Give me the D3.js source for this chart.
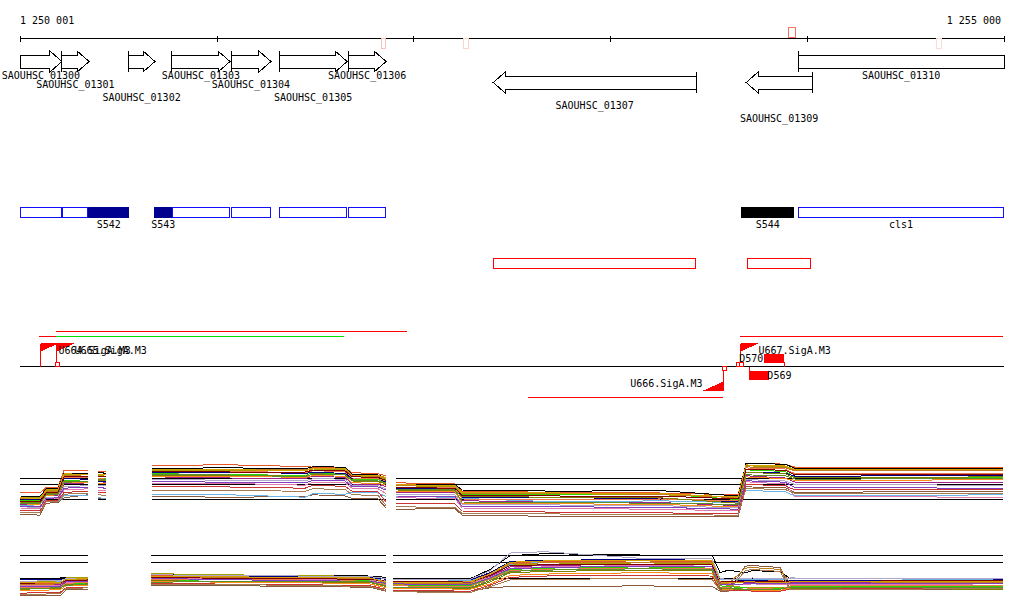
<!DOCTYPE html>
<html><head><meta charset="utf-8">
<script src="https://cdn.jsdelivr.net/npm/d3@7"></script>
<style>
body{margin:0;background:#fff}
svg{display:block}
text{font-family:"DejaVu Sans Mono",monospace;font-size:10px;fill:#000}
</style>
</head><body>
<svg id="c" width="1024" height="611"></svg>
<script>
// ---------- DATA ----------
const viewStart = 1250001, viewEnd = 1255000;
const axisTicks = [1250001, 1251000, 1252000, 1253000, 1254000, 1255000];
const axisLabels = ["1 250 001", "1 255 000"];

const markStart = [1251836, 1252250, 1253902, 1254656];
const markEnd   = [1251856, 1252276, 1253937, 1254680];
const markStrand = [-1, -1, 1, -1];
const markScore = [0.35, 0.25, 0.8, 0.2];

const geneNames = ["SAOUHSC_01300","SAOUHSC_01301","SAOUHSC_01302","SAOUHSC_01303","SAOUHSC_01304","SAOUHSC_01305","SAOUHSC_01306","SAOUHSC_01307","SAOUHSC_01309","SAOUHSC_01310"];
const geneStart = [1249700, 1250213, 1250550, 1250773, 1251073, 1251317, 1251668, 1252405, 1253690, 1253954];
const geneEnd   = [1250214, 1250352, 1250687, 1251068, 1251276, 1251663, 1251861, 1253436, 1254025, 1255300];
const geneStrand = [1, 1, 1, 1, 1, 1, 1, -1, -1, 1];

const featStart = [1249700, 1250213, 1250348, 1250682, 1250775, 1251073, 1251317, 1251668, 1253665, 1253954];
const featEnd   = [1250214, 1250347, 1250555, 1250775, 1251068, 1251276, 1251663, 1251861, 1253934, 1255300];
const featType  = ["cds","cds","srna","srna","cds","cds","cds","cds","other","cds"];
const featLabel = ["","","S542","S543","","","","","S544","cls1"];

const predStart = [1252405, 1253695];
const predEnd   = [1253436, 1254020];

const tuStart  = [1250098, 1250184, 1250184, 1253660, 1252582];
const tuEnd    = [1250184, 1251646, 1251966, 1254996, 1253572];
const tuStrand = [1, 1, 1, 1, -1];
const tuKind   = ["u", "g", "u", "u", "u"];

const promName = ["U664.SigA.M3", "U665.SigA.M3", "U667.SigA.M3", "U666.SigA.M3"];
const promPos  = [1250101, 1250184, 1253660, 1253572];
const promStrand = [1, 1, 1, -1];

const tssPos = [1250184, 1253644, 1253661, 1253572];
const tssStrand = [1, 1, 1, -1];

const termName = ["D570", "D569"];
const termStart = [1253782, 1253707];
const termEnd   = [1253883, 1253808];
const termStrand = [1, -1];

const refLevels = [12, 11, 8.5];

const seriesColors = ["#e8572a","#000000","#a8a000","#33d000","#a0228c","#8b5a3c","#6cb4e8","#e07ab0","#000080","#c47a1e","#f07850","#808000","#b0a8c8","#800000","#ff8c1a","#7f3fbf","#d4a000","#5a8f29","#cc3333","#a67c52"];

const expr1Pos = [1250001,1250103,1250133,1250194,1250225,1250347,1250397,1250438,1250672,1251068,1251449,1251490,1251652,1251688,1251820,1251861,1251912,1252211,1252247,1252745,1253253,1253649,1253690,1253720,1253888,1253939,1254996];
const expr1Segments = [[1250001,1250347],[1250397,1250438],[1250672,1251861],[1251912,1254996]];
const expr1Values = [
[9.6,9.5,10.4,10.5,13.3,13.2,13.1,13.0,14.1,14.2,13.9,13.8,13.7,12.9,12.7,12.4,11.2,11.0,9.8,9.6,9.5,9.2,14.4,14.5,14.3,13.8,13.7],
[9.0,8.9,10.2,10.3,12.8,12.8,12.9,12.8,13.6,13.7,13.5,13.9,13.8,12.6,12.5,12.0,11.0,10.9,10.0,9.8,9.9,9.0,14.5,14.4,14.3,13.6,13.5],
[8.8,8.7,9.9,10.0,12.6,12.5,12.4,12.3,13.3,13.2,13.3,13.5,13.4,12.3,12.2,11.8,10.7,10.6,9.4,9.3,9.2,8.9,14.1,14.0,13.9,13.3,13.4],
[8.3,8.2,9.6,9.7,11.6,11.7,12.0,11.9,12.7,12.6,12.4,12.9,12.7,11.8,11.7,11.4,10.2,10.1,9.2,9.3,9.4,8.4,13.4,13.3,13.1,12.1,12.0],
[7.6,7.6,9.0,9.1,11.0,11.2,11.4,11.3,12.2,12.0,11.9,12.3,12.1,11.0,10.9,10.6,9.6,9.5,8.2,8.0,7.9,7.4,12.4,12.3,12.0,11.3,11.2],
[6.0,5.8,7.8,7.9,8.7,9.2,8.6,8.5,8.9,8.8,8.9,9.2,9.0,8.6,8.5,7.0,6.8,6.9,5.8,5.6,5.6,5.5,10.6,10.5,10.4,9.6,9.8],
[7.4,7.3,8.0,8.1,9.0,9.1,8.7,8.6,9.3,9.2,8.8,9.4,9.3,9.6,9.5,8.9,8.9,8.8,8.6,8.0,8.2,7.9,10.0,9.9,9.7,9.0,9.2],
[7.0,6.9,8.5,8.6,10.0,10.2,10.0,9.9,11.0,11.1,10.8,11.3,11.2,10.3,10.2,9.4,8.7,8.6,7.0,6.9,6.8,6.5,11.4,11.3,11.0,8.9,8.8],
[8.5,8.4,9.3,9.4,11.9,11.8,11.5,11.4,12.9,12.9,12.8,12.9,12.8,11.9,11.9,11.3,10.3,10.2,8.8,8.7,8.6,8.0,13.0,13.0,12.8,12.3,12.4],
[8.6,8.5,9.8,9.8,12.4,12.3,12.2,12.2,13.4,13.5,13.4,13.6,13.5,12.4,12.3,12.0,10.8,10.8,9.5,9.4,9.3,8.7,13.9,13.8,13.7,13.2,13.2],
[7.9,7.8,9.2,9.3,12.1,12.0,11.9,11.8,13.0,13.1,12.9,13.2,13.1,12.0,11.9,11.5,10.5,10.4,8.5,8.4,8.5,8.2,13.7,13.6,13.5,12.7,12.8],
[8.0,7.9,9.4,9.5,11.4,11.5,11.6,11.6,12.5,12.4,12.3,12.6,12.5,11.5,11.4,11.0,10.0,9.9,8.9,8.8,8.7,7.8,12.9,12.9,12.7,12.0,12.2],
[7.2,7.1,8.8,8.8,10.6,10.7,10.8,10.7,11.8,11.6,11.5,11.9,11.8,10.8,10.7,10.2,9.3,9.2,7.6,7.5,7.4,7.0,11.8,11.7,11.5,10.9,10.8],
[8.1,8.0,9.5,9.6,12.2,12.2,12.3,12.2,13.1,13.0,13.0,13.3,13.2,12.2,12.1,11.6,10.4,10.3,9.1,9.0,9.0,8.5,13.5,13.4,13.3,12.5,12.6],
[7.7,7.6,9.1,9.2,11.2,11.3,11.1,11.0,12.3,12.3,12.1,12.4,12.3,11.2,11.1,10.8,9.8,9.7,7.8,7.7,7.6,7.2,12.2,12.1,11.9,11.6,11.7],
[7.3,7.2,8.6,8.7,10.3,10.5,10.4,10.3,11.4,11.3,11.2,11.6,11.5,10.6,10.5,10.0,9.0,8.9,7.3,7.2,7.1,6.8,11.6,11.5,11.3,10.4,10.3],
[8.7,8.6,10.0,10.1,12.7,12.6,12.6,12.5,13.5,13.4,13.2,13.6,13.6,12.5,12.4,12.1,10.9,10.7,9.6,9.5,9.4,8.8,14.2,14.1,14.0,13.4,13.5],
[7.8,7.7,9.2,9.3,11.3,11.4,11.7,11.7,12.6,12.5,12.2,12.7,12.6,11.6,11.5,11.2,10.1,10.0,8.0,7.9,7.8,7.6,12.6,12.5,12.4,11.8,11.9],
[6.6,6.5,8.2,8.3,9.6,9.8,9.6,9.5,10.6,10.5,10.3,10.8,10.6,9.8,9.7,8.0,7.8,7.7,6.5,6.3,6.2,6.0,11.0,10.9,10.7,10.0,10.1],
[6.3,6.2,8.0,8.1,9.3,9.5,9.2,9.1,10.0,9.9,9.8,10.2,10.1,9.2,9.1,7.4,7.2,7.1,6.1,6.0,5.9,5.8,10.3,10.2,10.1,9.4,9.5]
];

const expr2Pos = [1250001,1250204,1250235,1250347,1250667,1250916,1251424,1251779,1251861,1251896,1252288,1252389,1252491,1252669,1253151,1253517,1253558,1253599,1253685,1253720,1253863,1253914,1254996];
const expr2Segments = [[1250001,1250347],[1250667,1251861],[1251896,1254996]];
const expr2Values = [
[7.6,7.7,8.3,8.4,8.9,8.8,8.7,8.6,8.0,7.9,8.0,9.2,10.8,11.0,11.1,11.0,7.9,7.8,8.0,8.1,8.1,7.9,8.0],
[8.5,8.5,8.6,8.6,9.1,9.0,8.9,8.8,8.6,8.5,8.4,9.8,11.9,12.2,12.0,12.0,9.3,9.7,9.3,9.6,9.5,8.4,8.5],
[7.9,8.0,8.5,8.6,9.2,9.0,8.9,8.7,7.7,7.5,7.6,8.8,10.5,10.6,10.8,10.7,7.5,7.4,7.0,7.1,7.0,6.9,7.0],
[7.1,7.2,7.6,7.7,8.0,8.2,8.3,8.1,7.6,7.4,7.3,8.4,9.8,10.0,10.2,10.0,7.3,7.2,7.0,6.9,6.9,7.2,7.2],
[7.4,7.5,8.0,8.1,8.6,8.5,8.5,8.4,8.1,8.0,7.8,8.7,10.2,10.4,10.6,10.5,7.8,7.7,7.8,7.8,7.7,7.8,7.7],
[5.8,5.8,6.7,6.8,7.4,7.4,7.2,7.1,6.5,6.4,6.5,7.0,7.2,7.2,7.3,7.2,6.5,6.4,10.3,10.4,10.1,6.7,6.8],
[7.8,7.9,8.2,8.3,8.5,8.6,8.7,8.5,8.0,7.9,8.1,9.0,10.6,10.9,10.9,10.8,8.3,8.2,8.2,8.3,8.2,8.4,8.3],
[7.3,7.3,7.8,7.9,8.4,8.4,8.3,8.2,7.9,7.8,7.7,8.6,10.0,10.2,10.4,10.3,7.6,7.6,7.5,7.6,7.5,7.5,7.6],
[8.2,8.2,8.4,8.5,8.8,8.7,8.8,8.6,8.3,8.2,8.2,9.3,11.0,11.2,11.3,11.2,8.0,8.0,8.1,8.1,8.0,8.1,8.2],
[7.5,7.6,8.2,8.2,8.7,8.6,8.6,8.4,7.8,7.6,7.7,8.9,10.7,10.8,10.9,10.8,7.7,7.6,10.0,10.1,9.8,7.7,7.8],
[7.0,7.1,7.7,7.8,8.3,8.3,8.2,8.0,7.5,7.3,7.2,8.3,9.6,9.8,10.0,9.9,7.1,7.0,6.8,6.9,6.8,7.3,7.4],
[6.8,6.9,7.5,7.6,8.1,8.0,7.9,7.8,7.2,7.0,6.9,7.9,9.3,9.5,9.7,9.6,6.9,6.8,6.7,6.7,6.6,6.9,6.8],
[8.0,8.1,8.4,8.5,9.0,8.9,8.8,8.7,8.4,8.3,8.3,9.6,12.3,12.5,11.5,11.4,8.4,8.3,8.4,8.5,8.4,8.5,8.4],
[7.7,7.8,8.1,8.2,8.6,8.5,8.4,8.3,8.0,7.9,7.9,8.9,10.4,10.5,10.6,10.5,7.9,7.9,7.9,8.0,7.9,8.0,8.1],
[6.6,6.7,7.3,7.4,7.9,7.9,7.8,7.6,7.0,6.9,6.8,7.6,8.9,9.1,9.3,9.2,6.8,6.7,6.6,6.6,6.6,7.0,7.1],
[7.2,7.2,7.9,8.0,8.5,8.3,8.1,8.0,7.7,7.6,7.5,8.5,9.9,10.1,10.3,10.2,7.5,7.5,7.6,7.7,7.6,7.7,7.6],
[7.8,7.8,8.3,8.4,8.8,8.7,8.6,8.5,7.9,7.8,7.9,9.1,10.9,11.1,11.2,11.1,7.9,7.8,7.9,7.9,7.8,7.9,7.9],
[6.9,7.0,7.4,7.5,7.8,8.0,8.0,7.9,7.3,7.1,7.0,8.1,9.5,9.7,9.9,9.8,7.0,6.9,6.8,6.8,6.8,7.1,7.0],
[6.2,6.3,7.0,7.1,7.6,7.6,7.5,7.3,6.8,6.6,6.5,7.4,8.6,8.8,8.9,8.8,6.7,6.6,6.6,6.5,6.5,6.8,6.9],
[6.0,6.1,6.9,7.0,7.5,7.5,7.4,7.2,6.6,6.4,6.3,7.2,8.2,8.3,8.4,8.3,6.6,6.5,9.6,9.8,9.5,6.7,6.9]
];

// ---------- DRAWING ----------
const svg = d3.select("#c");
const X0 = 20, X1 = 1004;
const x = d3.scaleLinear().domain([viewStart, viewEnd]).range([X0, X1]);
const cx = v => Math.max(X0, Math.min(X1, x(v)));
const g = svg.append("g").attr("shape-rendering", "crispEdges");

// axis
const axisY = 38.5;
g.append("line").attr("x1", X0).attr("x2", X1).attr("y1", axisY).attr("y2", axisY).attr("stroke", "#000");
g.selectAll(".tick").data(axisTicks).join("line")
  .attr("x1", d => Math.round(x(d)) + 0.5).attr("x2", d => Math.round(x(d)) + 0.5)
  .attr("y1", axisY - 3).attr("y2", axisY + 3).attr("stroke", "#000");
svg.append("text").attr("x", x(viewStart)).attr("y", 24).text(axisLabels[0]);
svg.append("text").attr("x", x(viewEnd) - 3).attr("y", 24).attr("text-anchor", "end").text(axisLabels[1]);

// axis marks
const markColor = d3.interpolateRgb("#ffffff", "#ee5533");
markStart.forEach((s, i) => {
  const a = Math.round(x(s)) + 0.5, b = Math.round(x(markEnd[i])) + 0.5;
  const y0 = markStrand[i] > 0 ? 27.5 : 38.5;
  g.append("rect").attr("x", a).attr("y", y0).attr("width", b - a).attr("height", 10)
    .attr("fill", "#fff").attr("stroke", markColor(markScore[i]));
});

// genes
const head = 12;
const labelBase = [79, 88, 101];
geneNames.forEach((name, i) => {
  const x1 = x(geneStart[i]), x2 = x(geneEnd[i]);
  const L = Math.max(X0, x1), R = Math.min(X1, x2);
  const dy = geneStrand[i] > 0 ? 0 : 21;
  const top = 51 + dy, bot = 72 + dy, bt = 55 + dy, bb = 68 + dy, mid = 61.5 + dy;
  let p;
  if (geneStrand[i] > 0) {
    if (x2 <= X1) p = `M${L},${bt}H${x2 - head}V${top}L${x2},${mid}L${x2 - head},${bot}V${bb}H${L}Z`;
    else p = `M${L},${bt}H${R}V${bb}H${L}Z`;
    if (x1 >= X0) g.append("line").attr("x1", x1).attr("x2", x1).attr("y1", top).attr("y2", bot).attr("stroke", "#000");
  } else {
    if (x1 >= X0) p = `M${R},${bt}H${x1 + head}V${top}L${x1},${mid}L${x1 + head},${bot}V${bb}H${R}Z`;
    else p = `M${L},${bt}H${R}V${bb}H${L}Z`;
    if (x2 <= X1) g.append("line").attr("x1", x2).attr("x2", x2).attr("y1", top).attr("y2", bot).attr("stroke", "#000");
  }
  g.append("path").attr("d", p).attr("fill", "#fff").attr("stroke", "#000");
  svg.append("text").attr("x", (L + R) / 2).attr("y", labelBase[i % 3] + dy + (i % 3 === 0 && dy ? 1 : 0))
    .attr("text-anchor", "middle").text(name);
});

// feature boxes
const featFill = {cds: "#fff", srna: "#000090", other: "#000"};
const featStroke = {cds: "#1010ff", srna: "#000090", other: "#000"};
featStart.forEach((s, i) => {
  const a = cx(s), b = cx(featEnd[i]);
  g.append("rect").attr("x", a + 0.5).attr("y", 207.5).attr("width", b - a - 1).attr("height", 10)
    .attr("fill", featFill[featType[i]]).attr("stroke", featStroke[featType[i]]);
  if (featLabel[i]) svg.append("text").attr("x", (a + b) / 2).attr("y", 228)
    .attr("text-anchor", "middle").text(featLabel[i]);
});

// predicted regions
predStart.forEach((s, i) => {
  const a = cx(s), b = cx(predEnd[i]);
  g.append("rect").attr("x", a + 0.5).attr("y", 258.5).attr("width", b - a - 1).attr("height", 10)
    .attr("fill", "none").attr("stroke", "#ff0000");
});

// track 4
const base = 366.5;
g.append("line").attr("x1", X0).attr("x2", X1).attr("y1", base).attr("y2", base).attr("stroke", "#000");
const laneEnds = {"1": [], "-1": []};
tuStart.forEach((s, i) => {
  const ends = laneEnds[tuStrand[i]];
  let lane = ends.findIndex(e => s >= e);
  if (lane < 0) { lane = ends.length; ends.push(0); }
  ends[lane] = tuEnd[i];
  const y = tuStrand[i] > 0 ? base - 30 - 5 * lane : base + 31 + 5 * lane;
  g.append("line").attr("x1", cx(s)).attr("x2", cx(tuEnd[i])).attr("y1", y).attr("y2", y)
    .attr("stroke", tuKind[i] === "g" ? "#00e000" : "#ff0000");
});
promPos.forEach((p, i) => {
  const px = Math.round(x(p)) + 0.5;
  if (promStrand[i] > 0) {
    g.append("line").attr("x1", px).attr("x2", px).attr("y1", base - 23).attr("y2", base).attr("stroke", "#ff0000");
    g.append("path").attr("d", `M${px},${base - 24}H${px + 20}L${px},${base - 15}Z`).attr("fill", "#ff0000");
    svg.append("text").attr("x", px + 18).attr("y", base - 13).text(promName[i]);
  } else {
    g.append("line").attr("x1", px).attr("x2", px).attr("y1", base).attr("y2", base + 23).attr("stroke", "#ff0000");
    g.append("path").attr("d", `M${px},${base + 24}H${px - 20}L${px},${base + 15}Z`).attr("fill", "#ff0000");
    svg.append("text").attr("x", px - 21).attr("y", base + 20).attr("text-anchor", "end").text(promName[i]);
  }
});
tssPos.forEach((p, i) => {
  const px = Math.round(x(p)) - 0.5;
  const y0 = tssStrand[i] > 0 ? base - 4 : base;
  g.append("rect").attr("x", px).attr("y", y0).attr("width", 4).attr("height", 4)
    .attr("fill", "#fff").attr("stroke", "#ff0000");
});
termName.forEach((n, i) => {
  const a = x(termStart[i]), b = x(termEnd[i]);
  if (termStrand[i] > 0) {
    g.append("rect").attr("x", a).attr("y", base - 13).attr("width", b - a).attr("height", 9).attr("fill", "#ff0000");
    g.append("line").attr("x1", b).attr("x2", b).attr("y1", base - 5).attr("y2", base).attr("stroke", "#ff0000");
    svg.append("text").attr("x", a - 1).attr("y", base - 5).attr("text-anchor", "end").text(n);
  } else {
    g.append("rect").attr("x", a).attr("y", base + 4).attr("width", b - a).attr("height", 9).attr("fill", "#ff0000");
    g.append("line").attr("x1", a).attr("x2", a).attr("y1", base).attr("y2", base + 4).attr("stroke", "#ff0000");
    svg.append("text").attr("x", b - 2).attr("y", base + 12).text(n);
  }
});

// expression panels
function panel(pos, segs, values, yRange) {
  const y = d3.scaleLinear().domain([8.5, 12]).range(yRange);
  segs.forEach(([s, e]) => {
    refLevels.forEach(r => {
      g.append("line").attr("x1", cx(s)).attr("x2", cx(e)).attr("y1", Math.round(y(r)) + 0.5).attr("y2", Math.round(y(r)) + 0.5)
        .attr("stroke", "#000");
    });
  });
  values.forEach((vals, si) => {
    segs.forEach(([s, e]) => {
      const idx = pos.map((p, i) => i).filter(i => pos[i] >= s && pos[i] <= e);
      const gen = d3.line().x(i => cx(pos[i])).y(i => y(vals[i]));
      g.append("path").attr("d", gen(idx)).attr("fill", "none")
        .attr("stroke", seriesColors[si]).attr("stroke-width", 1);
    });
  });
}
panel(expr1Pos, expr1Segments, expr1Values, [499, 478]);
panel(expr2Pos, expr2Segments, expr2Values, [578, 555]);
</script>
</body></html>
